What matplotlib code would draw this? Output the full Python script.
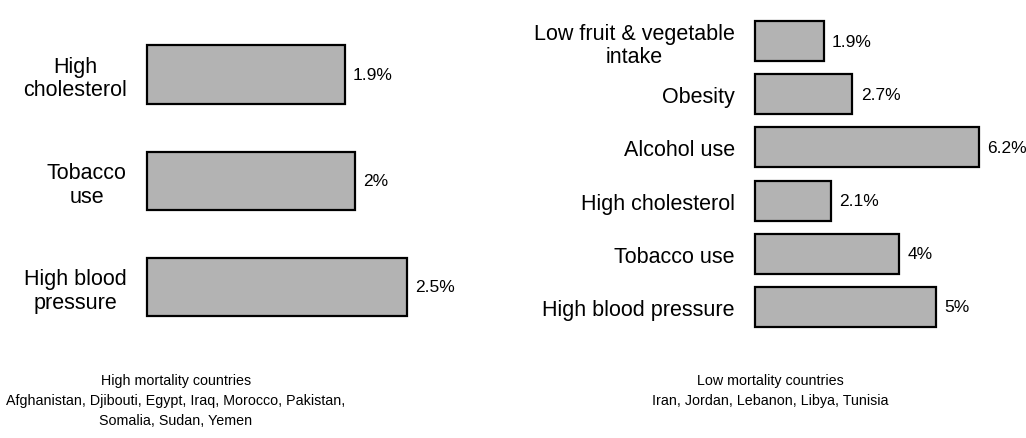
import matplotlib.pyplot as plt

# Attributable mortality by risk factor, two country groups
high_risks = ["High\ncholesterol", "Tobacco\nuse", "High blood\npressure"]
high_values = [1.9, 2.0, 2.5]
high_caption = ("High mortality countries\n"
                "Afghanistan, Djibouti, Egypt, Iraq, Morocco, Pakistan,\n"
                "Somalia, Sudan, Yemen")

low_risks = ["Low fruit & vegetable\nintake", "Obesity", "Alcohol use",
             "High cholesterol", "Tobacco use", "High blood pressure"]
low_values = [1.9, 2.7, 6.2, 2.1, 4.0, 5.0]
low_caption = "Low mortality countries\nIran, Jordan, Lebanon, Libya, Tunisia"

plt.rcParams["font.family"] = ["Liberation Sans", "DejaVu Sans"]

W, H = 1026, 439
fig = plt.figure(figsize=(W / 100, H / 100), dpi=100)


def panel(left, top, width, height, xmax, labels, values, bar_h):
    ax = fig.add_axes([left / W, 1 - (top + height) / H, width / W, height / H])
    pos = list(range(len(labels)))
    bars = ax.barh(pos, values, height=bar_h, color="#b3b3b3", edgecolor="black",
                   linewidth=1.6)
    for b in bars:
        b.set_clip_on(False)
    ax.set_xlim(0, xmax)
    ax.set_ylim(len(labels) - 0.5, -0.5)
    ax.set_yticks(pos)
    ax.set_yticklabels(labels, fontsize=15.5, multialignment="center",
                       linespacing=1.15)
    ax.tick_params(axis="y", length=0, pad=14.5)
    ax.set_xticks([])
    for s in ax.spines.values():
        s.set_visible(False)
    for p, v in zip(pos, values):
        ax.annotate(f"{v:g}%", (v, p), xytext=(6, 0), textcoords="offset points",
                    va="center", ha="left", fontsize=12.5)
    return ax


panel(147, 22.5, 300, 318.5, 300 / 104, high_risks, high_values, 0.55)
panel(755, 15.5, 271, 319, 271 / 36.1, low_risks, low_values, 0.75)

fig.text(176 / W, 1 - 374 / H, high_caption, ha="center", va="top",
         fontsize=10.3, linespacing=1.55)
fig.text(770 / W, 1 - 374 / H, low_caption, ha="center", va="top",
         fontsize=10.3, linespacing=1.55)

fig.savefig("out.png", dpi=100)
